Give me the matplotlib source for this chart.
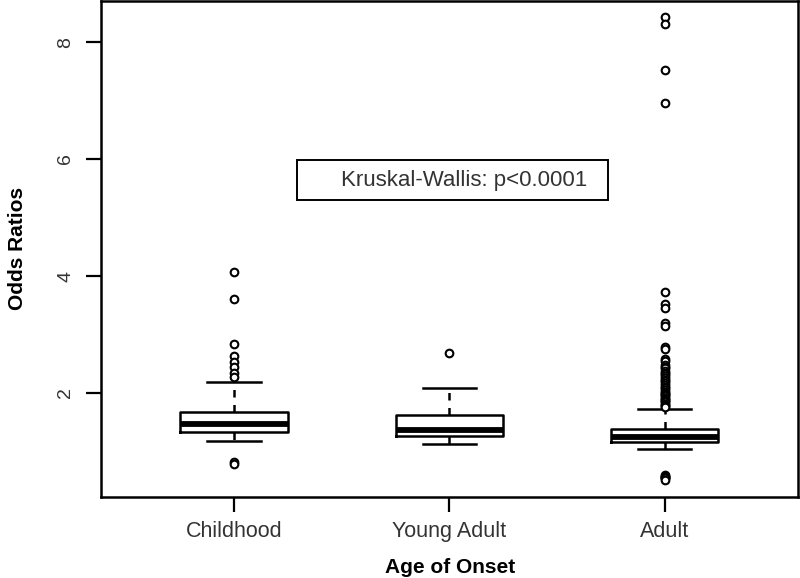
import matplotlib.pyplot as plt
import matplotlib.patches as mpatches

plt.rcParams['font.family'] = ['Liberation Sans', 'DejaVu Sans']

# data
groups = ["Childhood", "Young Adult", "Adult"]
q1 = [1.33, 1.26, 1.16]
medians = [1.47, 1.36, 1.24]
q3 = [1.67, 1.62, 1.38]
whis_lo = [1.18, 1.13, 1.04]
whis_hi = [2.19, 2.09, 1.73]

child_out = [4.07, 3.61, 2.84, 2.63, 2.53, 2.45, 2.34, 2.28, 0.82, 0.79]
young_out = [2.68]
adult_out = [8.43, 8.31, 7.52, 6.96, 3.73, 3.52, 3.45, 3.19, 3.15, 2.79, 2.76,
             2.58, 2.55, 2.48, 2.45, 2.43, 2.38, 2.35, 2.32, 2.29, 2.26, 2.23,
             2.20, 2.17, 2.14, 2.11, 2.08, 2.05, 2.02, 2.00, 1.98, 1.96, 1.94,
             1.92, 1.90, 1.88, 1.86, 1.84, 1.82, 1.80, 1.78, 1.76,
             0.60, 0.58, 0.57, 0.56, 0.55, 0.54, 0.52]
outliers = [child_out, young_out, adult_out]

yticks = [2, 4, 6, 8]

stats = []
for i, g in enumerate(groups):
    stats.append({"label": g, "q1": q1[i], "med": medians[i], "q3": q3[i],
                  "whislo": whis_lo[i], "whishi": whis_hi[i], "fliers": outliers[i]})

fig = plt.figure(figsize=(8, 5.78), dpi=100)
ax = fig.add_axes([0.126, 0.140, 0.8715, 0.858])

ax.bxp(stats, positions=[1, 2, 3], widths=0.5, showfliers=True,
       boxprops=dict(color="black", linewidth=1.8),
       medianprops=dict(color="black", linewidth=4.2, solid_capstyle="butt"),
       whiskerprops=dict(color="black", linewidth=1.8, linestyle=(0, (3, 3))),
       capprops=dict(color="black", linewidth=1.8),
       capwidths=0.25,
       flierprops=dict(marker="o", markersize=5.5, markerfacecolor="white",
                       markeredgecolor="black", markeredgewidth=1.5))

ax.set_xlim(0.38, 3.62)
ax.set_ylim(0.22, 8.7)
ax.set_yticks(yticks)
ax.set_yticklabels([str(t) for t in yticks], rotation=90, va="center",
                   fontsize=14, color="#333333")
ax.set_xticks([1, 2, 3])
ax.set_xticklabels(groups, fontsize=15.5, color="#333333")
ax.tick_params(axis="x", length=11, width=1.6, pad=6)
ax.tick_params(axis="y", length=11, width=1.6, pad=8)
for sp in ax.spines.values():
    sp.set_linewidth(1.8)

# annotation box, like an R legend
rect = mpatches.Rectangle((1.29, 5.30), 1.445, 0.68, facecolor="white",
                          edgecolor="black", linewidth=1.4, zorder=5)
ax.add_patch(rect)
ax.text(2.07, 5.63, "Kruskal-Wallis: p<0.0001", ha="center", va="center",
        fontsize=16, color="#333333", zorder=6)

fig.text(0.022, 0.57, "Odds Ratios", rotation=90, ha="center", va="center",
         fontsize=15, fontweight="bold")
fig.text(0.563, 0.019, "Age of Onset", ha="center", va="center",
         fontsize=15, fontweight="bold")

fig.savefig("out.png", dpi=100)
